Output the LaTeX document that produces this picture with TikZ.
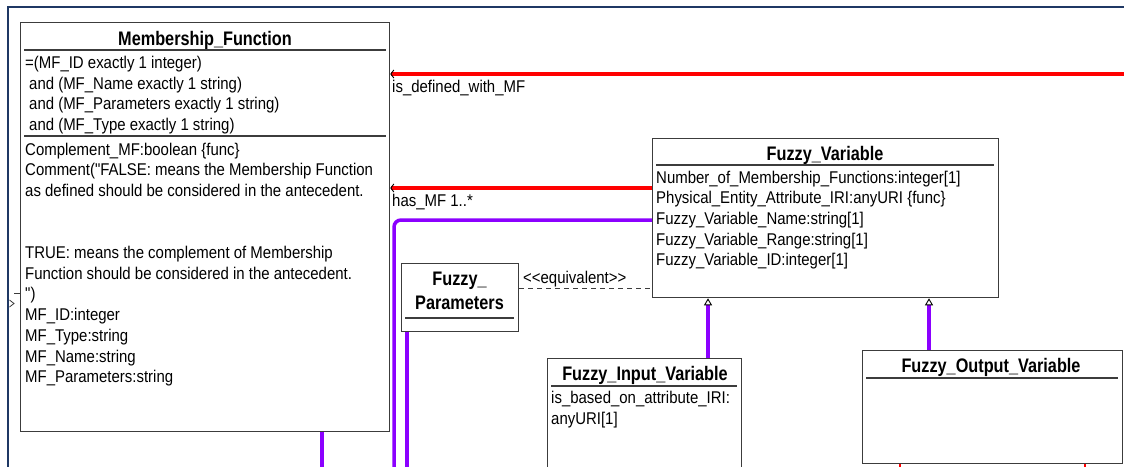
\documentclass[tikz,border=0pt]{standalone}
\usepackage{fontspec}
\newfontfamily\umlfont{Liberation Sans}[FakeStretch=0.88]
\newfontfamily\umltitlefont{Liberation Sans}[FakeStretch=0.83]
\usetikzlibrary{arrows.meta}
\definecolor{purp}{RGB}{139,0,255}
\definecolor{navyframe}{RGB}{31,56,100}
\definecolor{boxline}{RGB}{60,60,60}
\newcommand\bodyfont{\umlfont\fontsize{17}{20.7}\selectfont}
\newcommand\titlefont{\umltitlefont\fontsize{19.6}{22}\selectfont\bfseries}
\begin{document}
\begin{tikzpicture}[x=1pt,y=-1pt,
  umlbox/.style={draw=boxline, line width=1.3pt, fill=white, inner sep=0pt, anchor=north west},
  attr/.style={anchor=base west, inner sep=0pt, font=\bodyfont},
  title/.style={anchor=base, inner sep=0pt, font=\titlefont},
  sep/.style={draw=boxline, line width=1.2pt},
  assoc/.style={draw=red, line width=4pt, -{Straight Barb[length=3pt,width=8pt,line width=0.9pt,color=black]}},
  gen/.style={draw=purp, line width=3.5pt, -{Triangle[open,length=7pt,width=8pt,line width=0.9pt,color=black,fill=white]}},
  link/.style={draw=purp, line width=3.5pt},
  lbl/.style={anchor=base west, inner sep=0pt, font=\bodyfont},
]
\useasboundingbox (0,0) rectangle (1124,466);
\clip (0,0) rectangle (1124,466);
\fill[white] (0,0) rectangle (1124,466);

% outer frame
\draw[navyframe, line width=2pt] (8,470) -- (8,7) -- (1124,7);
\draw[boxline, line width=1pt] (14,293) -- (20,293);
\draw[boxline, line width=0.8pt] (9.5,300) -- (14,303.5) -- (9.5,307);

% Membership_Function
\node[umlbox, minimum width=369pt, minimum height=409pt] (mf) at (20,22) {};
\node[title] (mft) at (205,45) {Membership\_Function};
\draw[sep] (24,50) -- (386,50);
\node[attr] (mfa1) at (25,68) {=(MF\_ID exactly 1 integer)};
\node[attr] (mfa2) at (29,89) {and (MF\_Name exactly 1 string)};
\node[attr] (mfa3) at (29,109) {and (MF\_Parameters exactly 1 string)};
\node[attr] (mfa4) at (29,130) {and (MF\_Type exactly 1 string)};
\draw[sep] (24,136) -- (386,136);
\foreach \k/\t in {0/{Complement\_MF:boolean \{func\}},
                   1/{Comment("FALSE: means the Membership Function},
                   2/{as defined should be considered in the antecedent.},
                   5/{TRUE: means the complement of Membership},
                   6/{Function should be considered in the antecedent.},
                   7/{")},
                   8/{MF\_ID:integer},
                   9/{MF\_Type:string},
                   10/{MF\_Name:string},
                   11/{MF\_Parameters:string}}
  \node[attr] (mfb\k) at (25,{155+20.7*\k}) {\t};

% Fuzzy_Variable
\node[umlbox, minimum width=346pt, minimum height=159pt] (fv) at (652,138) {};
\node[title] (fvt) at (825,160) {Fuzzy\_Variable};
\draw[sep] (656,165) -- (994,165);
\foreach \k/\t in {0/{Number\_of\_Membership\_Functions:integer[1]},
                   1/{Physical\_Entity\_Attribute\_IRI:anyURI \{func\}},
                   2/{Fuzzy\_Variable\_Name:string[1]},
                   3/{Fuzzy\_Variable\_Range:string[1]},
                   4/{Fuzzy\_Variable\_ID:integer[1]}}
  \node[attr] (fva\k) at (656,{183+20.7*\k}) {\t};

% Fuzzy_Parameters
\node[umlbox, minimum width=117pt, minimum height=68pt] (fp) at (401,263) {};
\node[title] (fpt1) at (459.5,285) {Fuzzy\_};
\node[title] (fpt2) at (459.5,309) {Parameters};
\draw[sep] (405,318) -- (514,318);

% Fuzzy_Input_Variable
\node[umlbox, minimum width=194pt, minimum height=130pt] (fiv) at (547,358) {};
\node[title] (fivt) at (645,380) {Fuzzy\_Input\_Variable};
\draw[sep] (551,386) -- (737,386);
\node[attr] (fiva1) at (551,403) {is\_based\_on\_attribute\_IRI:};
\node[attr] (fiva2) at (551,424) {anyURI[1]};

% Fuzzy_Output_Variable
\node[umlbox, minimum width=260pt, minimum height=113pt] (fov) at (862,350) {};
\node[title] (fovt) at (991,372) {Fuzzy\_Output\_Variable};
\draw[sep] (866,378) -- (1118,378);

% connectors
\coordinate (rightend) at (1124,74);
\draw[assoc] (rightend) -- (mf.east |- rightend);
\node[lbl] (l1) at (392,92) {is\_defined\_with\_MF};
\draw[assoc] (fv.west |- 0,188) -- (mf.east |- 0,188);
\node[lbl] (l2) at (392,206) {has\_MF 1..*};

\draw[link, rounded corners=7pt] (fv.west |- 0,220) -- (394,220) -- (394,470);
\draw[link] (mf.south -| 322,0) -- (322,470);
\draw[link] (fp.south -| 407,0) -- (407,470);

\draw[boxline, line width=1pt, dash pattern=on 5pt off 4pt] (fp.east |- 0,288) -- (fv.west |- 0,288);
\node[lbl] (l3) at (523,283) {<\kern0pt<equivalent>\kern0pt>};

\draw[gen] (fiv.north -| 708,0) -- (fv.south -| 708,0);
\draw[gen] (fov.north -| 929,0) -- (fv.south -| 929,0);

\draw[red, line width=2pt] (fov.south -| 900,0) -- (900,470);
\draw[red, line width=2pt] (fov.south -| 1085,0) -- (1085,470);
\end{tikzpicture}
\end{document}
